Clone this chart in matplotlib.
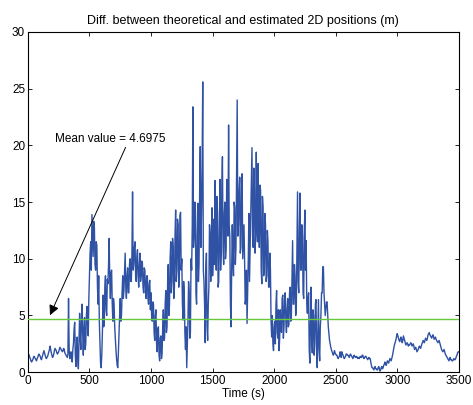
import numpy as np
import matplotlib
matplotlib.use('Agg')
import matplotlib.pyplot as plt

time_step = 5
error_m = [
    1.8, 1.6, 1.5, 1.3, 1.2, 1.0, 0.9, 1.0, 1.1, 1.3,
    1.4, 1.3, 1.2, 1.1, 1.0, 1.2, 1.3, 1.5, 1.6, 1.5,
    1.4, 1.2, 1.1, 1.3, 1.5, 1.7, 1.9, 1.7, 1.5, 1.3,
    1.2, 1.3, 1.4, 1.6, 1.8, 2.0, 2.3, 2.0, 1.7, 1.5,
    1.3, 1.4, 1.6, 1.9, 2.1, 2.0, 1.9, 1.7, 1.6, 1.7,
    1.8, 2.0, 2.2, 2.1, 2.0, 1.9, 1.8, 1.9, 2.1, 2.0,
    1.7, 1.6, 1.5, 1.4, 1.3, 1.6, 6.5, 2.0, 1.2, 1.6,
    1.8, 1.1, 0.9, 2.0, 2.5, 3.8, 4.4, 1.5, 0.5, 2.2,
    3.1, 1.2, 0.3, 2.8, 5.2, 3.0, 2.0, 4.5, 6.0, 3.5,
    1.5, 3.8, 4.8, 2.0, 2.5, 5.0, 5.8, 4.2, 3.2, 6.5,
    8.5, 10.5, 11.5, 9.0, 13.9, 12.0, 10.2, 13.3, 12.8, 9.5,
    9.0, 11.5, 11.2, 7.5, 6.0, 8.5, 4.5, 2.5, 0.8, 0.4,
    1.5, 3.5, 6.8, 4.0, 4.2, 7.5, 8.5, 5.5, 5.0, 8.2,
    7.8, 9.5, 11.8, 8.0, 6.5, 8.8, 9.0, 6.0, 4.5, 6.5,
    6.0, 4.0, 3.0, 2.0, 1.2, 0.6, 0.4, 1.8, 3.5, 5.0,
    6.5, 4.5, 5.0, 7.0, 8.5, 6.5, 7.2, 9.0, 10.5, 7.5,
    6.5, 8.5, 9.2, 7.0, 7.0, 9.5, 10.0, 8.0, 8.0, 10.5,
    15.9, 9.0, 9.5, 11.0, 11.5, 8.5, 8.0, 10.2, 10.8, 8.5,
    7.5, 9.5, 10.5, 8.0, 8.5, 9.8, 9.6, 7.5, 7.0, 9.2,
    9.0, 7.0, 6.5, 8.5, 8.5, 6.5, 6.0, 7.8, 8.1, 5.5,
    7.0, 5.0, 4.5, 6.2, 6.0, 3.5, 2.8, 5.0, 5.5, 2.5,
    1.8, 3.8, 4.0, 1.5, 1.0, 3.0, 3.2, 1.2, 1.7, 4.0,
    5.5, 2.8, 3.0, 6.0, 7.2, 3.5, 4.0, 8.0, 9.5, 5.0,
    6.0, 10.0, 11.5, 7.0, 8.0, 11.8, 11.0, 6.5, 7.5, 12.0,
    14.3, 8.0, 9.0, 13.5, 13.0, 7.5, 8.5, 13.8, 14.1, 9.0,
    10.0, 6.0, 4.6, 8.0, 7.0, 3.5, 2.0, 4.0, 0.4, 2.5,
    4.5, 8.0, 7.0, 3.0, 3.5, 10.0, 9.0, 13.0, 23.4, 11.0,
    12.0, 15.0, 14.9, 7.0, 6.0, 12.0, 14.9, 8.0, 9.5, 16.0,
    19.9, 11.0, 14.0, 18.0, 25.6, 9.0, 8.0, 6.0, 2.6, 9.0,
    10.5, 4.0, 2.8, 6.0, 7.5, 13.0, 12.0, 8.0, 11.6, 14.5,
    8.5, 10.0, 13.5, 9.5, 16.9, 12.0, 9.0, 15.5, 14.0, 7.5,
    8.0, 13.0, 17.0, 9.0, 10.5, 16.0, 19.0, 11.0, 9.5, 14.0,
    15.0, 10.0, 11.0, 17.0, 16.5, 12.0, 21.8, 13.0, 12.0, 6.0,
    4.0, 9.0, 13.0, 10.0, 8.5, 15.0, 14.5, 9.5, 11.0, 18.0,
    24.0, 12.0, 13.0, 16.0, 17.2, 10.5, 11.0, 17.0, 17.5, 10.0,
    11.4, 13.0, 9.9, 6.0, 6.5, 9.0, 4.3, 7.0, 10.0, 14.0,
    8.0, 11.0, 14.0, 17.0, 19.8, 12.0, 11.0, 18.0, 16.0, 10.5,
    12.0, 19.4, 13.0, 11.5, 18.4, 12.5, 11.0, 16.5, 16.0, 9.0,
    7.8, 15.5, 14.5, 8.5, 9.0, 14.0, 13.0, 8.0, 8.5, 12.5,
    11.5, 7.5, 7.5, 10.5, 9.0, 4.5, 3.1, 5.0, 2.5, 1.9,
    4.0, 4.5, 2.5, 6.0, 7.2, 3.5, 3.0, 5.5, 1.9, 3.0,
    5.5, 4.0, 3.5, 6.5, 6.8, 3.0, 4.0, 6.5, 7.0, 4.5,
    3.5, 5.5, 6.5, 4.0, 4.2, 7.0, 7.5, 4.5, 5.0, 8.5,
    11.6, 6.0, 6.0, 9.5, 8.5, 5.0, 5.5, 10.5, 15.9, 8.0,
    7.0, 12.5, 15.8, 9.0, 9.0, 13.0, 12.0, 7.0, 6.5, 12.5,
    14.3, 9.0, 11.6, 6.0, 5.2, 6.5, 7.0, 2.0, 0.8, 4.5,
    7.5, 3.0, 1.7, 5.5, 5.0, 1.5, 2.5, 6.0, 6.4, 2.0,
    0.4, 3.5, 6.4, 2.0, 1.0, 4.0, 5.0, 7.0, 7.0, 9.3,
    9.3, 7.0, 6.0, 5.0, 5.6, 6.2, 6.2, 5.0, 4.0, 3.4,
    2.8, 2.5, 2.2, 2.0, 1.8, 1.7, 1.5, 1.6, 1.9, 1.7,
    1.6, 1.5, 1.5, 1.3, 1.2, 1.3, 1.4, 1.8, 1.6, 1.3,
    1.8, 1.6, 1.5, 1.3, 1.2, 1.3, 1.4, 1.6, 1.6, 1.5,
    1.5, 1.4, 1.3, 1.5, 1.6, 1.5, 1.4, 1.3, 1.2, 1.4,
    1.5, 1.4, 1.3, 1.3, 1.4, 1.3, 1.2, 1.3, 1.2, 1.3,
    1.4, 1.3, 1.3, 1.5, 1.5, 1.3, 1.2, 1.3, 1.4, 1.4,
    1.3, 1.2, 1.1, 1.2, 1.3, 1.2, 1.2, 0.9, 0.6, 0.4,
    0.4, 0.3, 0.2, 0.4, 0.5, 0.3, 0.3, 0.2, 0.2, 0.4,
    0.5, 0.3, 0.1, 0.2, 0.4, 0.5, 0.3, 0.4, 0.6, 0.7,
    0.9, 0.7, 0.6, 0.8, 1.0, 0.9, 0.8, 1.0, 1.2, 1.1,
    1.0, 1.2, 1.4, 1.7, 2.0, 2.3, 2.5, 2.7, 2.9, 3.2,
    3.4, 3.2, 3.0, 2.8, 2.7, 2.9, 3.1, 2.9, 2.6, 2.8,
    3.2, 3.0, 2.8, 2.6, 2.4, 2.5, 2.6, 2.5, 2.3, 2.4,
    2.4, 2.5, 2.6, 2.5, 2.3, 2.4, 2.5, 2.3, 2.0, 2.1,
    2.2, 2.0, 1.8, 1.9, 2.0, 2.2, 2.3, 2.2, 2.1, 2.3,
    2.5, 2.6, 2.8, 2.7, 2.6, 2.8, 3.0, 2.9, 2.8, 3.0,
    3.3, 3.4, 3.5, 3.3, 3.2, 3.1, 3.0, 3.2, 3.3, 3.1,
    2.9, 3.0, 3.1, 2.9, 2.8, 2.7, 2.6, 2.7, 2.8, 2.6,
    2.4, 2.2, 2.0, 1.9, 1.8, 1.9, 2.0, 1.8, 1.6, 1.5,
    1.4, 1.3, 1.2, 1.1, 1.0, 1.2, 1.3, 1.1, 1.1, 1.0,
    1.0, 1.1, 1.2, 1.1, 1.1, 1.2, 1.4, 1.5, 1.7, 1.8,
    1.8,
]
mean_value = 4.6975
x_ticks = [0, 500, 1000, 1500, 2000, 2500, 3000, 3500]
y_ticks = [0, 5, 10, 15, 20, 25, 30]

plt.rcParams['font.family'] = ['Liberation Sans', 'DejaVu Sans']
plt.rcParams['font.size'] = 8.5

t = np.arange(len(error_m)) * time_step

fig = plt.figure(figsize=(4.73, 4.05), dpi=100)
ax = fig.add_axes([0.059, 0.081, 0.911, 0.840])

ax.plot(t, error_m, color='#2f52a4', linewidth=1.0)
ax.plot([0, 3500], [mean_value, mean_value], color='#66c83a', linewidth=1.0,
        zorder=3)

ax.annotate('Mean value = %.4f' % mean_value,
            xy=(170, 4.8), xytext=(220, 20.6),
            ha='left', va='center',
            arrowprops=dict(arrowstyle='-|>', color='black', lw=0.7,
                            mutation_scale=15, shrinkA=0,
                            relpos=(0.65, 0.0)))

ax.set_xlim(0, 3500)
ax.set_ylim(0, 30)
ax.set_xticks(x_ticks)
ax.set_yticks(y_ticks)
ax.tick_params(direction='in', top=True, right=True, length=3, width=0.6, pad=2)
for s in ax.spines.values():
    s.set_linewidth(0.8)
ax.set_title('Diff. between theoretical and estimated 2D positions (m)',
             fontsize=9, pad=6)
ax.set_xlabel('Time (s)', labelpad=1)

fig.savefig('out.png', dpi=100)
